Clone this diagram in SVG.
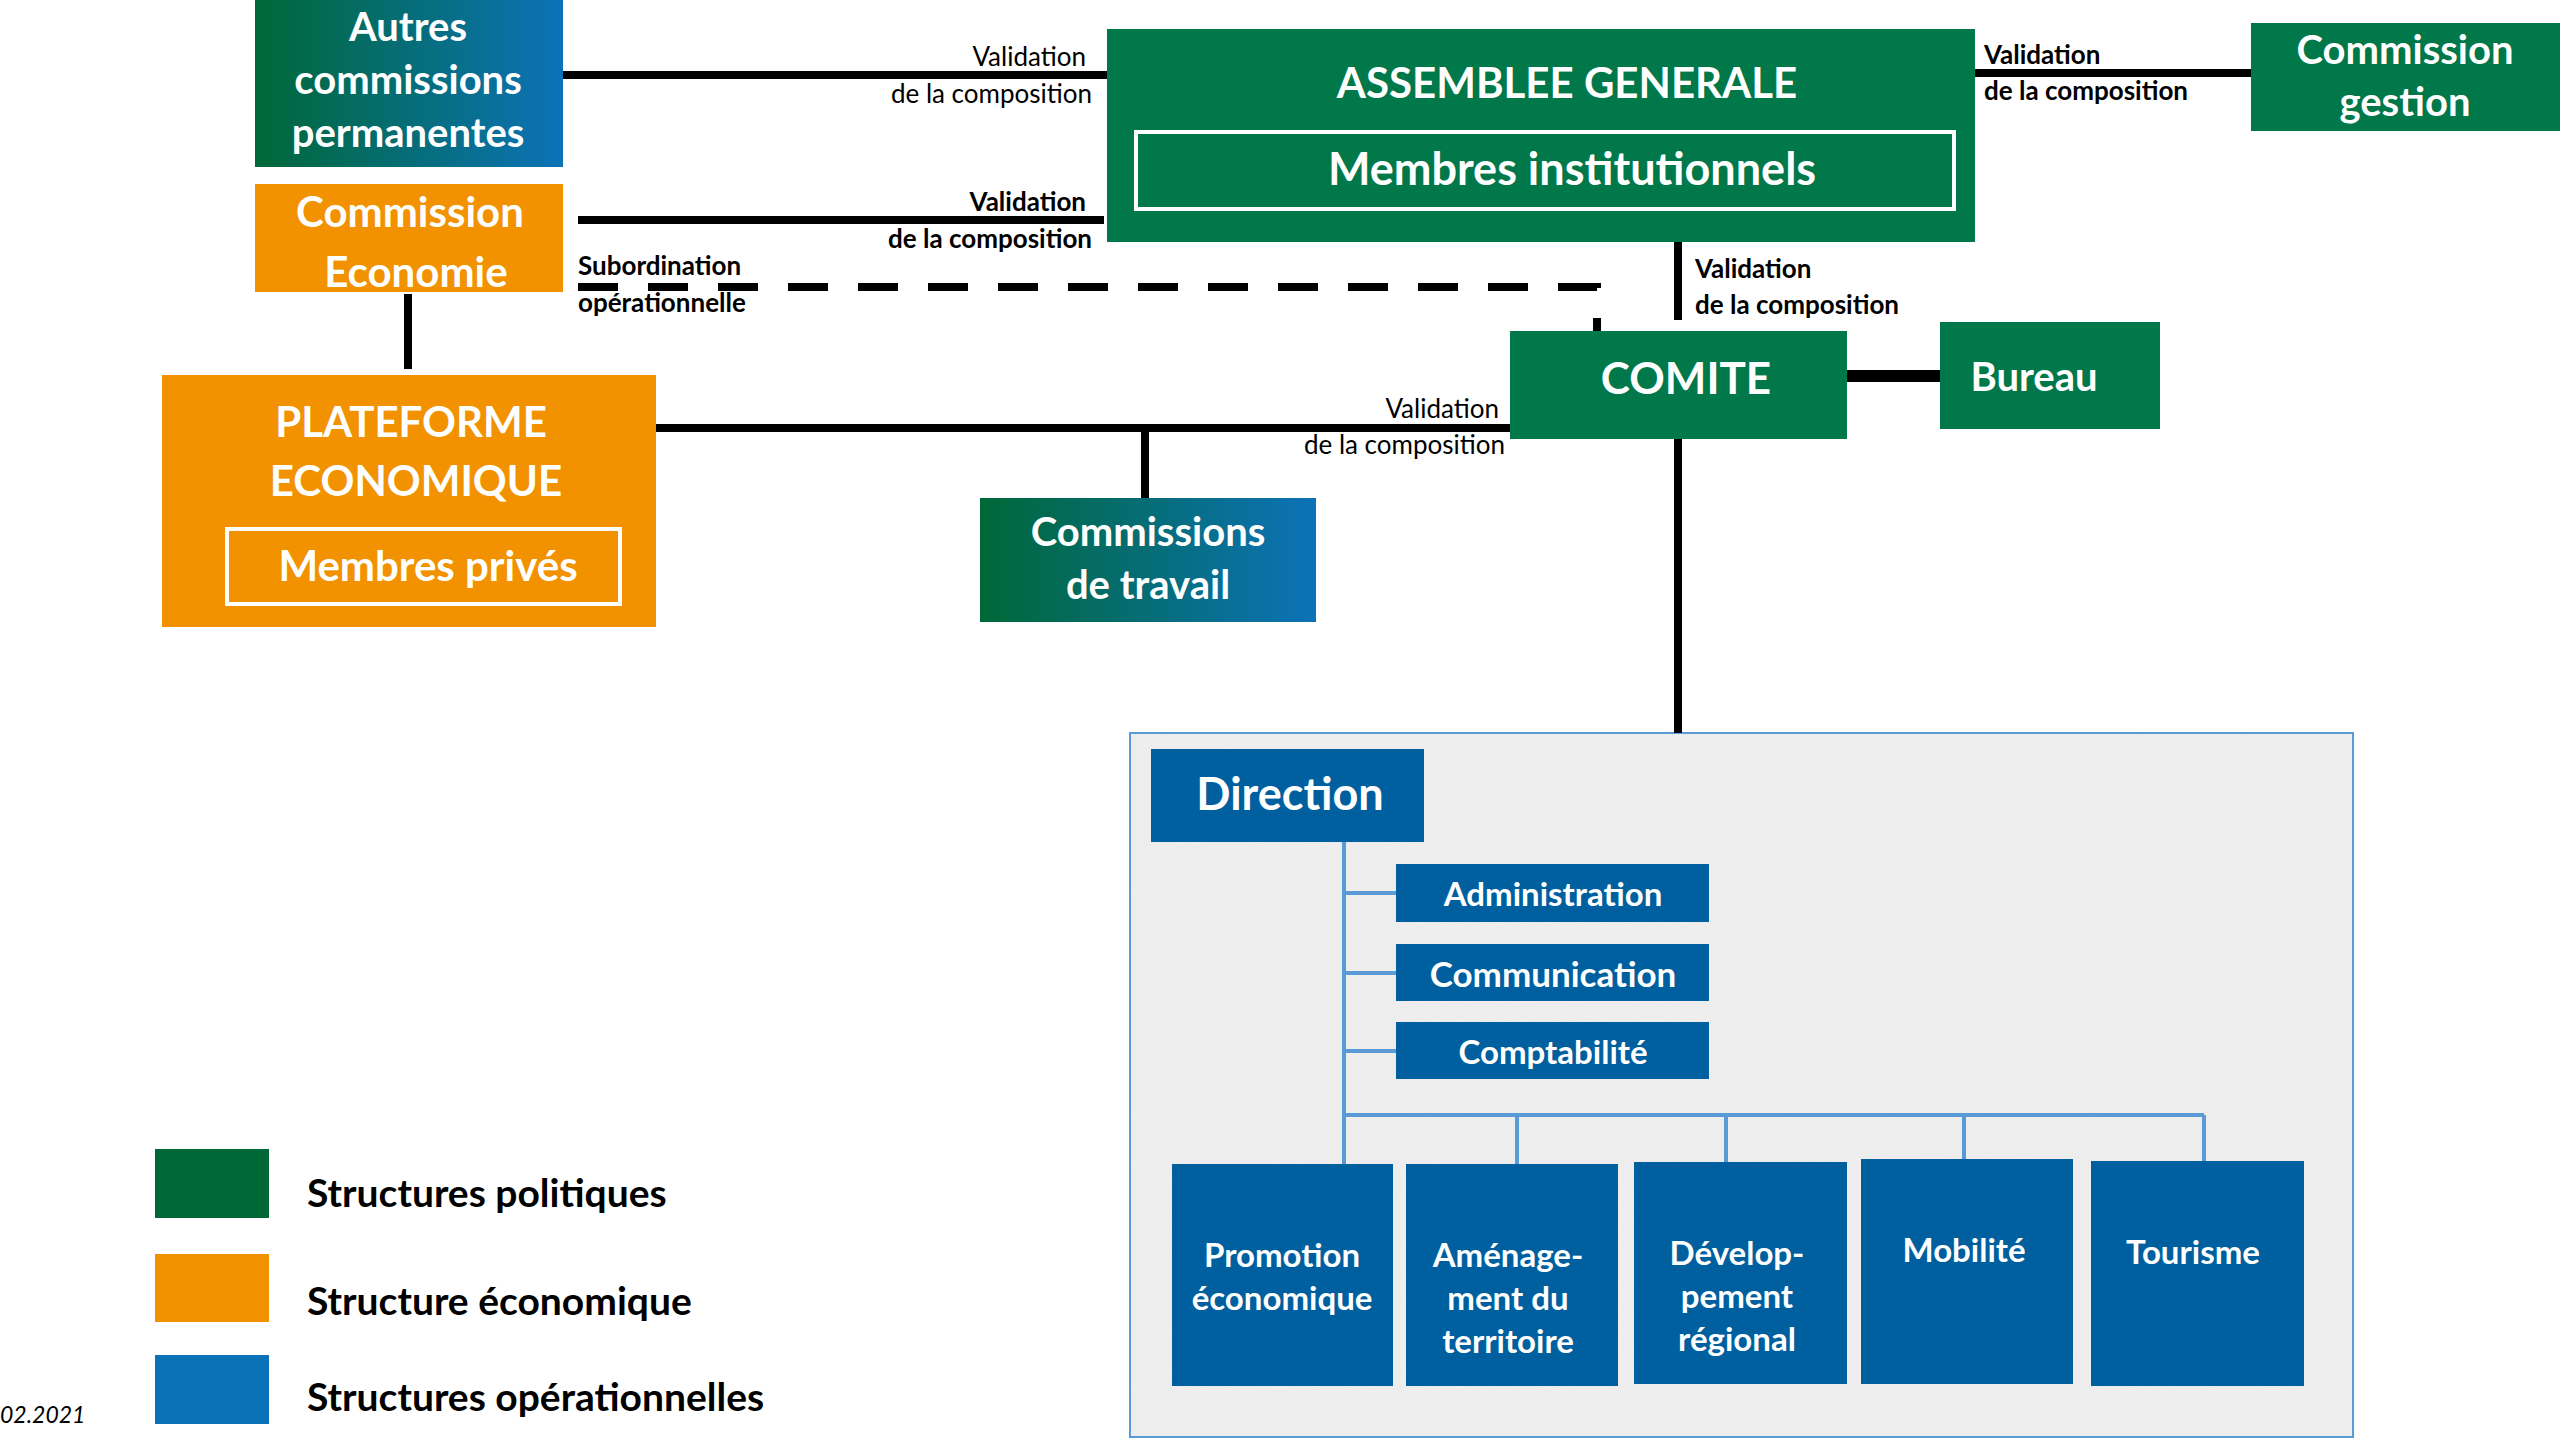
<svg xmlns="http://www.w3.org/2000/svg" width="2560" height="1439" viewBox="0 0 2560 1439">
<defs>
<linearGradient id="gb" x1="0" y1="0" x2="1" y2="0"><stop offset="0" stop-color="#006837"/><stop offset="1" stop-color="#0C72B8"/></linearGradient>
<filter id="noise" x="0" y="0" width="100%" height="100%"><feTurbulence type="fractalNoise" baseFrequency="0.9" numOctaves="2" seed="3" result="t"/><feColorMatrix in="t" type="matrix" values="0 0 0 0 0.82  0 0 0 0 0.82  0 0 0 0 0.82  0 0 0 1.6 -0.5" result="n"/><feComposite in="n" in2="SourceGraphic" operator="in"/></filter>
<style>
text{font-family:Lato,"Open Sans",sans-serif;dominant-baseline:central}
.w{fill:#fff;font-weight:bold;text-anchor:middle}
.l{fill:#000;font-size:26px}
.b{font-weight:bold}
.g{fill:#00784A}.o{fill:#F39200}.u{fill:#00609F}
.k{stroke:#000;stroke-width:8;fill:none}
.c{stroke:#5B9BD5;stroke-width:4;fill:none}
</style>
</defs>
<rect width="2560" height="1439" fill="#fff"/>
<g id="panel"><rect x="1130" y="733" width="1223" height="704" fill="#efefef" stroke="#5B9BD5" stroke-width="2"/><rect x="1131" y="734" width="1221" height="702" fill="#fff" filter="url(#noise)"/></g>
<g id="connectors">
<path class="k" d="M563 75H1107M578 220H1104M408 294V369M656 428H1510M1145 428V498M1678 242V320M1975 73H2251M1678 439V733"/>
<path d="M1847 376H1940" stroke="#000" stroke-width="12"/>
<path d="M578 287H1597V331" stroke="#000" stroke-width="8" fill="none" stroke-dasharray="40 30"/>
<path class="c" d="M1344 842V1165M1344 893H1396M1344 973H1396M1344 1051H1396M1344 1115H2204M1517 1115V1164M1726 1115V1162M1964 1115V1159M2204 1115V1161"/>
<text class="l" x="1086" y="56" text-anchor="end">Validation</text><text class="l" x="1092" y="93" text-anchor="end">de la composition</text>
<text class="l b" x="1086" y="201" text-anchor="end">Validation</text><text class="l b" x="1092" y="238" text-anchor="end">de la composition</text>
<text class="l b" x="578" y="265">Subordination</text><text class="l b" x="578" y="302">opérationnelle</text>
<text class="l b" x="1984" y="54">Validation</text><text class="l b" x="1984" y="90">de la composition</text>
<text class="l b" x="1695" y="268">Validation</text><text class="l b" x="1695" y="304">de la composition</text>
<text class="l" x="1499" y="408" text-anchor="end">Validation</text><text class="l" x="1505" y="444" text-anchor="end">de la composition</text>
</g>
<g id="autres"><rect x="255" y="0" width="308" height="167" fill="url(#gb)"/><text class="w" font-size="40"><tspan x="408" y="26">Autres</tspan><tspan x="408" y="79">commissions</tspan><tspan x="408" y="132">permanentes</tspan></text></g>
<g id="commission-economie"><rect class="o" x="255" y="184" width="308" height="108"/><text class="w" font-size="42"><tspan x="410" y="211">Commission</tspan><tspan x="416" y="271">Economie</tspan></text></g>
<g id="plateforme"><rect class="o" x="162" y="375" width="494" height="252"/><text class="w" font-size="42"><tspan x="411" y="421">PLATEFORME</tspan><tspan x="416" y="480">ECONOMIQUE</tspan></text><rect x="227" y="529" width="393" height="75" fill="none" stroke="#fff" stroke-width="4"/><text class="w" font-size="42" x="428" y="565">Membres privés</text></g>
<g id="assemblee"><rect class="g" x="1107" y="29" width="868" height="213"/><text class="w" font-size="42" x="1567" y="82">ASSEMBLEE GENERALE</text><rect x="1136" y="132" width="818" height="77" fill="none" stroke="#fff" stroke-width="4"/><text class="w" font-size="45" x="1572" y="168">Membres institutionnels</text></g>
<g id="commission-gestion"><rect class="g" x="2251" y="23" width="309" height="108"/><text class="w" font-size="40"><tspan x="2405" y="49">Commission</tspan><tspan x="2405" y="101">gestion</tspan></text></g>
<g id="comite"><rect class="g" x="1510" y="331" width="337" height="108"/><text class="w" font-size="44" x="1686" y="377">COMITE</text></g>
<g id="bureau"><rect class="g" x="1940" y="322" width="220" height="107"/><text class="w" font-size="40" x="2034" y="376">Bureau</text></g>
<g id="commissions-travail"><rect x="980" y="498" width="336" height="124" fill="url(#gb)"/><text class="w" font-size="40"><tspan x="1148" y="531">Commissions</tspan><tspan x="1148" y="584">de travail</tspan></text></g>
<g id="direction"><rect class="u" x="1151" y="749" width="273" height="93"/><text class="w" font-size="45" x="1290" y="793">Direction</text></g>
<g id="administration"><rect class="u" x="1396" y="864" width="313" height="58"/><text class="w" font-size="33" x="1553" y="893">Administration</text></g>
<g id="communication"><rect class="u" x="1396" y="944" width="313" height="57"/><text class="w" font-size="35" x="1553" y="973">Communication</text></g>
<g id="comptabilite"><rect class="u" x="1396" y="1022" width="313" height="57"/><text class="w" font-size="33" x="1553" y="1051">Comptabilité</text></g>
<g id="promotion"><rect class="u" x="1172" y="1164" width="221" height="222"/><text class="w" font-size="33"><tspan x="1282" y="1254">Promotion</tspan><tspan x="1282" y="1297">économique</tspan></text></g>
<g id="amenagement"><rect class="u" x="1406" y="1164" width="212" height="222"/><text class="w" font-size="33"><tspan x="1508" y="1254">Aménage-</tspan><tspan x="1508" y="1297">ment du</tspan><tspan x="1508" y="1340">territoire</tspan></text></g>
<g id="developpement"><rect class="u" x="1634" y="1162" width="213" height="222"/><text class="w" font-size="33"><tspan x="1737" y="1252">Dévelop-</tspan><tspan x="1737" y="1295">pement</tspan><tspan x="1737" y="1338">régional</tspan></text></g>
<g id="mobilite"><rect class="u" x="1861" y="1159" width="212" height="225"/><text class="w" font-size="33" x="1964" y="1249">Mobilité</text></g>
<g id="tourisme"><rect class="u" x="2091" y="1161" width="213" height="225"/><text class="w" font-size="33" x="2193" y="1251">Tourisme</text></g>
<g id="legend">
<rect x="155" y="1149" width="114" height="69" fill="#006837"/><rect x="155" y="1254" width="114" height="68" fill="#F39200"/><rect x="155" y="1355" width="114" height="69" fill="#0C72B8"/>
<text font-size="39" font-weight="bold" x="307" y="1192">Structures politiques</text>
<text font-size="39" font-weight="bold" x="307" y="1300">Structure économique</text>
<text font-size="39" font-weight="bold" x="307" y="1396">Structures opérationnelles</text>
<text font-size="23" font-style="italic" x="0" y="1414">02.2021</text>
</g>
</svg>
